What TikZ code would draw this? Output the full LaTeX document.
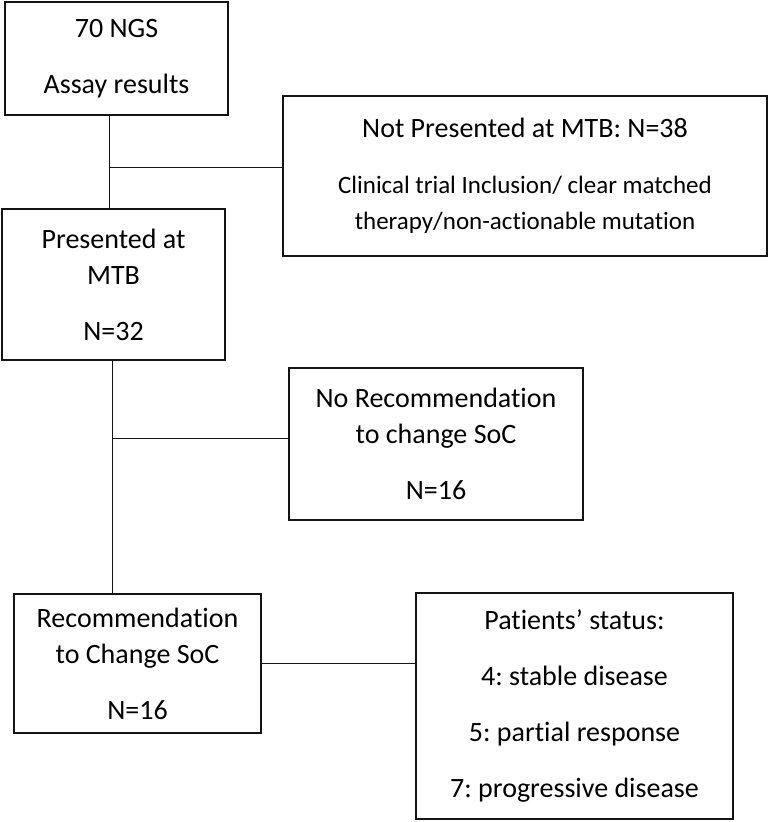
\documentclass[tikz,border=0pt]{standalone}
\usepackage{fontspec}
\setmainfont{Carlito}[Ligatures=NoCommon]
\frenchspacing
\usetikzlibrary{calc}
\definecolor{boxline}{RGB}{20,20,20}
\tikzset{
  flow/.style={
    line cap=butt,
    line join=miter
  },
  flow-box/.style={
    flow,
    rectangle,
    draw=boxline,
    line width=2.2pt,
    align=center,
    inner sep=0pt,
    font=\fontsize{28}{36}\selectfont
  },
  flow-line/.style={flow, draw=boxline, line width=1pt}
}
\newcommand{\gap}{\\[20pt]}

\begin{document}
\begin{tikzpicture}[x=1pt,y=-1pt]
  \useasboundingbox (0,0) rectangle (769,822);
  % Boxes
  \node[flow-box, minimum width=223pt, minimum height=113pt] (ngs) at (116.5,58.5)
    {70 NGS\gap Assay results};
  \node[flow-box, minimum width=484pt, minimum height=160pt] (notmtb) at (525,176)
    {Not Presented at MTB: N=38\gap
     {\fontsize{25}{32}\selectfont Clinical trial Inclusion/ clear matched}\\
     {\fontsize{25}{32}\selectfont therapy/non-actionable mutation}};
  \node[flow-box, minimum width=223pt, minimum height=151pt] (mtb) at (113.5,284.5)
    {Presented at\\MTB\gap N=32};
  \node[flow-box, minimum width=294pt, minimum height=152pt] (norec) at (436,444)
    {No Recommendation\\to change SoC\gap N=16};
  \node[flow-box, minimum width=247pt, minimum height=139pt] (rec) at (137.5,663.5)
    {Recommendation\\to Change SoC\gap N=16};
  \node[flow-box, minimum width=317pt, minimum height=226pt] (status) at (574.5,706)
    {Patients’ status:\gap
     4: stable disease\gap 5: partial response\gap 7: progressive disease};
  % Junction points
  \coordinate (j1) at (109,167);
  \coordinate (j2) at (112,438);
  % Draw connectors
  \draw[flow-line] (ngs.south -| j1) -- (mtb.north -| j1);
  \draw[flow-line] (j1) -- (j1 -| notmtb.west);
  \draw[flow-line] (mtb.south -| j2) -- (rec.north -| j2);
  \draw[flow-line] (j2) -- (j2 -| norec.west);
  \draw[flow-line] (rec.east) -- (rec.east -| status.west);
\end{tikzpicture}
\end{document}
